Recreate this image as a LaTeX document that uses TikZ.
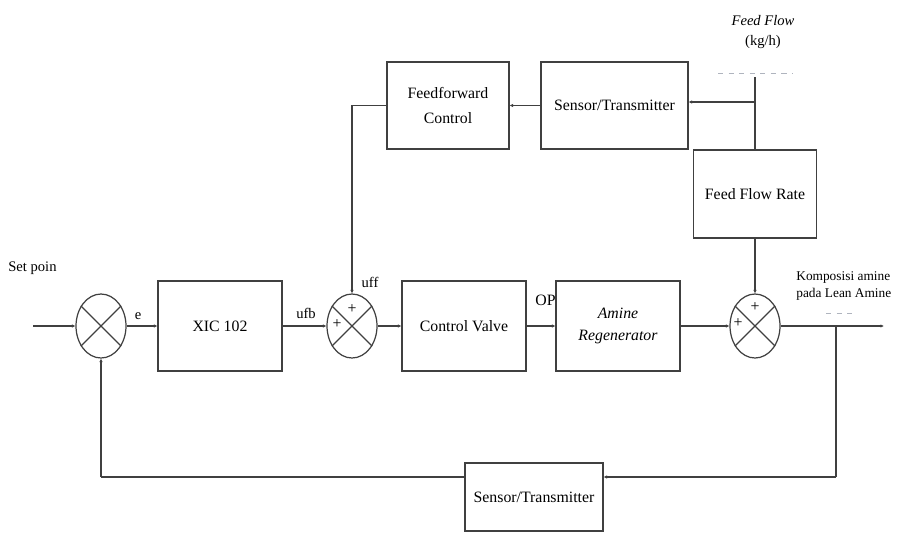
\documentclass[tikz,border=0pt]{standalone}
\usepackage{fontspec}
\setmainfont{Liberation Serif}
\usetikzlibrary{arrows.meta,shapes.geometric,calc}
\definecolor{LineClr}{RGB}{64,64,64}
\definecolor{FaintClr}{RGB}{175,180,190}

\tikzset{
  blk/.style={draw=LineClr,line width=0.7pt,minimum width=2.48cm,minimum height=1.8cm,
    align=center,font=\fontsize{9}{12}\selectfont},
  sumnode/.style={draw=LineClr,line width=0.7pt,ellipse,minimum width=1cm,minimum height=1.28cm,inner sep=0pt},
  sig/.style={draw=LineClr,line width=0.7pt,-{Latex[length=2pt,width=2pt]}},
  wire/.style={draw=LineClr,line width=0.7pt},
  lbl/.style={font=\fontsize{8.3}{10}\selectfont,inner sep=0pt},
  pls/.style={font=\fontsize{9}{10}\selectfont,inner sep=0pt},
}

\begin{document}
\begin{tikzpicture}[x=0.02cm,y=-0.02cm]
\useasboundingbox (0,0) rectangle (898,532);

% summing points
\node[sumnode] (s1) at (101,326) {};
\node[sumnode] (s2) at (352,326) {};
\node[sumnode] (s3) at (755,326) {};
\foreach \s in {s1,s2,s3}{
  \draw[wire] (\s.45) -- (\s.225);
  \draw[wire] (\s.135) -- (\s.315);
}
\node[pls] (p2a) at (352,309) {+};
\node[pls] (p2b) at (337,324) {+};
\node[pls] (p3a) at (755,307) {+};
\node[pls] (p3b) at (738,323) {+};

% blocks
\node[blk] (xic) at (220,326) {XIC 102};
\node[blk] (cv) at (464,326) {Control Valve};
\node[blk] (amr) at (618,326) {\itshape Amine\\[1pt]\itshape Regenerator};
\node[blk,minimum width=2.44cm,minimum height=1.74cm] (ff) at (448,105.5) {Feedforward\\[2pt]Control};
\node[blk,minimum width=2.94cm,minimum height=1.74cm] (st1) at (614.5,105.5) {Sensor/Transmitter};
\node[blk,minimum width=2.46cm,minimum height=1.76cm] (ffr) at (755,194) {Feed Flow Rate};
\node[blk,minimum width=2.76cm,minimum height=1.36cm] (st2) at (534,497) {Sensor/Transmitter};

% texts
\node[lbl,anchor=west] (sp) at (8,268) {Set poin};
\node[lbl] (e) at (138,316) {e};
\node[lbl] (ufb) at (306,313) {ufb};
\node[lbl] (uff) at (370,282) {uff};
\node[lbl,font=\fontsize{9}{10}\selectfont,anchor=east] (op) at (556,300) {OP};
\node[lbl,align=center] (fflow) at (763,32) {\itshape Feed Flow\\[1pt](kg/h)};
\node[lbl,anchor=west,align=left,font=\fontsize{7.6}{9}\selectfont] (komp) at (796,286) {Komposisi amine\\[1pt]pada Lean Amine};

% coordinates
\coordinate (in) at (33,326);
\coordinate (out) at (884,326);
\coordinate (tap) at (836,326);
\coordinate (feed) at (755,77);
\coordinate (fj) at (755,102);
\coordinate (fbr) at (836,477);
\coordinate (fbl) at (101,477);

% faint marks
\draw[FaintClr,dashed,line width=0.5pt] (718,73) -- (793,73);
\draw[FaintClr,dashed,line width=0.5pt] (826,313) -- (853,313);

% main path
\draw[sig] (in) -- (s1.west);
\draw[sig] (s1.east) -- (xic.west);
\draw[sig] (xic.east) -- (s2.west);
\draw[sig] (s2.east) -- (cv.west);
\draw[sig] (cv.east) -- (amr.west);
\draw[sig] (amr.east) -- (s3.west);
\draw[sig] (s3.east) -- (out);

% feedforward path
\draw[wire] (feed) -- (ffr.north);
\draw[sig] (fj) -- (fj -| st1.east);
\draw[sig] (st1.west) -- (ff.east);
\draw[sig] (ff.west) -| (s2.north);
\draw[sig] (ffr.south) -- (s3.north);

% feedback path
\draw[wire] (tap) -- (fbr);
\draw[sig] (fbr) -- (fbr -| st2.east);
\draw[wire] (fbr -| st2.west) -- (fbl);
\draw[sig] (fbl) -- (s1.south);
\end{tikzpicture}
\end{document}
